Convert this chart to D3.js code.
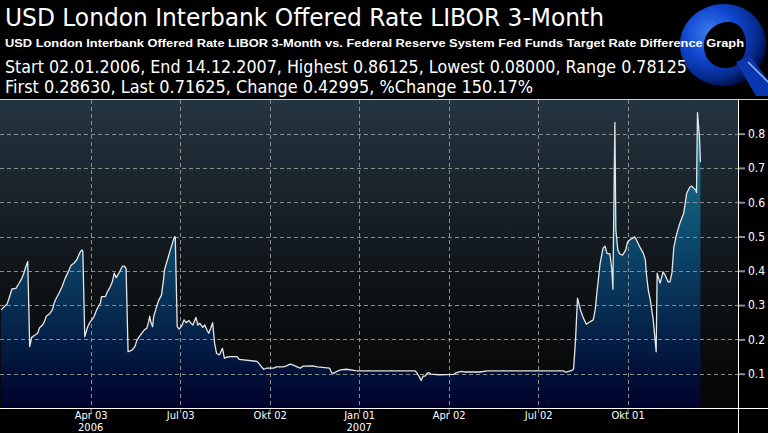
<!DOCTYPE html>
<html>
<head>
<meta charset="utf-8">
<script src="https://cdn.jsdelivr.net/npm/d3@7"></script>
<style>
  html, body { margin: 0; padding: 0; background: #000; }
  svg { display: block; }
</style>
</head>
<body>
<div id="chart"></div>
<script>
// LIBOR 3M minus Fed Funds target, days counted from 02.01.2006
const startDate = Date.UTC(2006, 0, 2);
const dayOffsets = [
  0, 2, 6, 8, 11, 15, 18, 21, 23, 25, 27, 29, 31, 34, 37, 39, 42, 44, 46, 49,
  52, 54, 56, 59, 62, 65, 69, 71, 74, 77, 80, 82, 83, 85, 88, 90, 94, 97, 101, 102,
  106, 108, 111, 113, 115, 117, 120, 123, 125, 127, 129, 133, 136, 138, 141, 144, 146, 148, 150, 151,
  152, 154, 155, 158, 160, 163, 165, 166, 168, 170, 172, 174, 176, 177, 179, 181, 184, 186, 188, 191,
  193, 195, 198, 200, 202, 205, 207, 209, 211, 213, 215, 217, 219, 222, 225, 227, 229, 233, 240, 242,
  260, 262, 265, 267, 270, 277, 280, 287, 290, 294, 297, 301, 304, 307, 317, 321, 324, 334, 336, 338,
  341, 345, 351, 360, 363, 421, 423, 426, 427, 429, 431, 433, 435, 437, 445, 460, 463, 468, 471, 487,
  494, 572, 574, 576, 580, 582, 584, 586, 589, 592, 595, 599, 602, 604, 606, 609, 612, 614, 616, 619,
  621, 622, 624, 625, 627, 629, 632, 635, 637, 639, 644, 646, 650, 653, 655, 656, 658, 660, 663, 666,
  667, 670, 673, 675, 678, 680, 682, 684, 687, 690, 694, 696, 697, 700, 702, 706, 707, 708, 710, 711
];
const rateDiff = [
  0.2863, 0.292, 0.303, 0.320, 0.347, 0.349, 0.363, 0.378, 0.393, 0.412, 0.427, 0.179, 0.206, 0.212, 0.218, 0.234, 0.242, 0.252, 0.268, 0.274,
  0.286, 0.307, 0.320, 0.336, 0.354, 0.378, 0.402, 0.416, 0.422, 0.433, 0.453, 0.461, 0.457, 0.208, 0.237, 0.249, 0.264, 0.286, 0.307, 0.325,
  0.325, 0.339, 0.354, 0.368, 0.393, 0.380, 0.395, 0.412, 0.414, 0.407, 0.164, 0.169, 0.179, 0.198, 0.210, 0.222, 0.229, 0.232, 0.252, 0.268,
  0.252, 0.237, 0.266, 0.295, 0.313, 0.329, 0.373, 0.402, 0.422, 0.441, 0.461, 0.480, 0.498, 0.499, 0.237, 0.230, 0.242, 0.257, 0.249, 0.255,
  0.247, 0.242, 0.264, 0.242, 0.247, 0.235, 0.242, 0.229, 0.218, 0.232, 0.249, 0.189, 0.159, 0.155, 0.174, 0.145, 0.148, 0.150, 0.150, 0.142,
  0.136, 0.130, 0.119, 0.113, 0.116, 0.116, 0.120, 0.120, 0.123, 0.128, 0.125, 0.120, 0.116, 0.122, 0.123, 0.120, 0.119, 0.116, 0.103, 0.101,
  0.106, 0.111, 0.113, 0.109, 0.108, 0.108, 0.101, 0.087, 0.080, 0.093, 0.093, 0.101, 0.103, 0.099, 0.097, 0.098, 0.103, 0.107, 0.105, 0.105,
  0.108, 0.108, 0.104, 0.106, 0.109, 0.113, 0.198, 0.320, 0.286, 0.262, 0.244, 0.252, 0.257, 0.286, 0.344, 0.422, 0.466, 0.472, 0.451, 0.449,
  0.402, 0.346, 0.833, 0.519, 0.461, 0.449, 0.446, 0.461, 0.485, 0.490, 0.499, 0.490, 0.466, 0.451, 0.432, 0.393, 0.344, 0.315, 0.257, 0.164,
  0.393, 0.364, 0.397, 0.388, 0.368, 0.368, 0.393, 0.470, 0.509, 0.538, 0.568, 0.606, 0.626, 0.643, 0.647, 0.636, 0.628, 0.86125, 0.791, 0.71625
];

const xTickDates = [Date.UTC(2006, 3, 3), Date.UTC(2006, 6, 3), Date.UTC(2006, 9, 2), Date.UTC(2007, 0, 1),
                    Date.UTC(2007, 3, 2), Date.UTC(2007, 6, 2), Date.UTC(2007, 9, 1)];
const xTickLabels = ["Apr 03", "Jul 03", "Okt 02", "Jan 01", "Apr 02", "Jul 02", "Okt 01"];
const yearLabels = ["2006", "", "", "2007", "", "", ""];
const yTicks = [0.1, 0.2, 0.3, 0.4, 0.5, 0.6, 0.7, 0.8];

const titleText = "USD London Interbank Offered Rate LIBOR 3-Month";
const subtitleText = "USD London Interbank Offered Rate LIBOR 3-Month vs. Federal Reserve System Fed Funds Target Rate Difference Graph";
const statsLine1 = "Start 02.01.2006, End 14.12.2007, Highest 0.86125, Lowest 0.08000, Range 0.78125";
const statsLine2 = "First 0.28630, Last 0.71625, Change 0.42995, %Change 150.17%";

const width = 768;
const height = 433;
const plot = { left: 0, right: 738, top: 100, bottom: 408 };
const dayMs = 86400000;
const axisFont = "'DejaVu Sans Condensed', 'Liberation Sans Narrow', sans-serif";

const data = dayOffsets.map((d, i) => ({ date: new Date(startDate + d * dayMs), value: rateDiff[i] }));

const svg = d3.select("#chart")
    .append("svg")
    .attr("width", width)
    .attr("height", height)
    .style("font-family", "'DejaVu Sans', Verdana, sans-serif");

svg.append("rect").attr("width", width).attr("height", height).attr("fill", "#000");

const defs = svg.append("defs");

const bgGrad = defs.append("linearGradient")
    .attr("id", "bg-grad")
    .attr("x1", 0).attr("y1", 0).attr("x2", 0).attr("y2", 1);
bgGrad.append("stop").attr("offset", "0%").attr("stop-color", "#253541");
bgGrad.append("stop").attr("offset", "55%").attr("stop-color", "#101519");
bgGrad.append("stop").attr("offset", "100%").attr("stop-color", "#050505");

const areaGrad = defs.append("linearGradient")
    .attr("id", "area-grad")
    .attr("gradientUnits", "userSpaceOnUse")
    .attr("x1", 0).attr("y1", plot.top).attr("x2", 0).attr("y2", plot.bottom);
areaGrad.append("stop").attr("offset", "0%").attr("stop-color", "#1f85a3");
areaGrad.append("stop").attr("offset", "45%").attr("stop-color", "#0c4a6c");
areaGrad.append("stop").attr("offset", "100%").attr("stop-color", "#00022c");

const logoGrad = defs.append("radialGradient")
    .attr("id", "logo-grad")
    .attr("cx", "35%").attr("cy", "35%").attr("r", "70%");
logoGrad.append("stop").attr("offset", "0%").attr("stop-color", "#3d7cf0");
logoGrad.append("stop").attr("offset", "45%").attr("stop-color", "#1046d0");
logoGrad.append("stop").attr("offset", "80%").attr("stop-color", "#062a8c");
logoGrad.append("stop").attr("offset", "100%").attr("stop-color", "#000c40");

// logo sits behind the header texts
const logo = svg.append("g");
logo.append("path")
    .attr("d", "M724,4 C748,4 766,22 766,45 C766,68 748,86 724,86 C700,86 680,68 680,45 C680,22 700,4 724,4 Z " +
               "M728,22 C716,22 704,32 704,46 C704,60 714,68 726,68 C738,68 746,58 746,45 C746,32 740,22 728,22 Z")
    .attr("fill", "url(#logo-grad)")
    .attr("fill-rule", "evenodd");
logo.append("path")
    .attr("d", "M736,62 L750,56 L768,80 L768,96 L756,96 Z")
    .attr("fill", "#0a36b0");
logo.append("path")
    .attr("d", "M748,62 L768,82")
    .attr("stroke", "#9fb8e8")
    .attr("stroke-width", 1.5);

svg.append("text")
    .attr("x", 5).attr("y", 26)
    .attr("fill", "#fff")
    .attr("font-size", 25)
    .attr("textLength", 599)
    .attr("lengthAdjust", "spacingAndGlyphs")
    .text(titleText);

svg.append("text")
    .attr("x", 5).attr("y", 47)
    .attr("fill", "#fff")
    .style("font-family", "'Liberation Sans', Arial, sans-serif")
    .attr("font-size", 11.5)
    .attr("font-weight", "bold")
    .attr("textLength", 739)
    .attr("lengthAdjust", "spacingAndGlyphs")
    .text(subtitleText);

svg.append("text")
    .attr("x", 5).attr("y", 73)
    .attr("fill", "#fff")
    .attr("font-size", 17)
    .attr("textLength", 682)
    .attr("lengthAdjust", "spacingAndGlyphs")
    .text(statsLine1);

svg.append("text")
    .attr("x", 5).attr("y", 93)
    .attr("fill", "#fff")
    .attr("font-size", 17)
    .attr("textLength", 528)
    .attr("lengthAdjust", "spacingAndGlyphs")
    .text(statsLine2);

const x = d3.scaleUtc()
    .domain([new Date(Date.UTC(2005, 11, 31, 19)), new Date(Date.UTC(2008, 0, 21, 5))])
    .range([plot.left, plot.right]);

const y = d3.scaleLinear()
    .domain([0, 0.898])
    .range([plot.bottom, plot.top]);

svg.append("rect")
    .attr("x", plot.left).attr("y", plot.top)
    .attr("width", plot.right - plot.left)
    .attr("height", plot.bottom - plot.top)
    .attr("fill", "url(#bg-grad)");

const area = d3.area()
    .x(d => x(d.date))
    .y0(y(0))
    .y1(d => y(d.value));

svg.append("path")
    .datum(data)
    .attr("d", area)
    .attr("fill", "url(#area-grad)");

// dashed grid
svg.append("g")
    .selectAll("line")
    .data(yTicks)
    .enter()
    .append("line")
    .attr("x1", plot.left).attr("x2", plot.right)
    .attr("y1", d => Math.round(y(d)) + 0.5)
    .attr("y2", d => Math.round(y(d)) + 0.5)
    .attr("stroke", "#8c8c8c")
    .attr("stroke-dasharray", "4,3");

svg.append("g")
    .selectAll("line")
    .data(xTickDates)
    .enter()
    .append("line")
    .attr("x1", d => Math.round(x(d)) + 0.5)
    .attr("x2", d => Math.round(x(d)) + 0.5)
    .attr("y1", plot.top).attr("y2", plot.bottom)
    .attr("stroke", "#8c8c8c")
    .attr("stroke-dasharray", "4,3");

const line = d3.line()
    .x(d => x(d.date))
    .y(d => y(d.value));

svg.append("path")
    .datum(data)
    .attr("d", line)
    .attr("fill", "none")
    .attr("stroke", "#e6e6e6")
    .attr("stroke-width", 1.3)
    .attr("stroke-linejoin", "round");

// frame lines
svg.append("line")
    .attr("x1", 0).attr("x2", width)
    .attr("y1", plot.top - 0.5).attr("y2", plot.top - 0.5)
    .attr("stroke", "#cfcfcf");
svg.append("line")
    .attr("x1", 0).attr("x2", width)
    .attr("y1", plot.bottom + 0.5).attr("y2", plot.bottom + 0.5)
    .attr("stroke", "#fff");
svg.append("line")
    .attr("x1", plot.right + 0.5).attr("x2", plot.right + 0.5)
    .attr("y1", plot.top - 1).attr("y2", height)
    .attr("stroke", "#fff");

const xAxis = svg.append("g")
    .attr("transform", `translate(0, ${plot.bottom + 1})`)
    .call(d3.axisBottom(x)
        .tickValues(xTickDates.map(d => new Date(d)))
        .tickFormat((d, i) => xTickLabels[i])
        .tickSize(4));
xAxis.select(".domain").remove();
xAxis.selectAll(".tick line").attr("stroke", "#999");
xAxis.selectAll(".tick text")
    .attr("y", 2)
    .attr("fill", "#fff")
    .style("font-family", axisFont)
    .style("font-stretch", "condensed")
    .style("font-size", "11px");

svg.append("g")
    .selectAll("text")
    .data(xTickDates)
    .enter()
    .append("text")
    .attr("x", d => x(d))
    .attr("y", 431)
    .attr("text-anchor", "middle")
    .attr("fill", "#fff")
    .style("font-family", axisFont)
    .style("font-stretch", "condensed")
    .style("font-size", "11px")
    .text((d, i) => yearLabels[i]);

const yAxis = svg.append("g")
    .attr("transform", `translate(${plot.right + 1}, 0)`)
    .call(d3.axisRight(y)
        .tickValues(yTicks)
        .tickFormat(d3.format(".1f"))
        .tickSize(6)
        .tickPadding(3));
yAxis.select(".domain").remove();
yAxis.selectAll(".tick line").attr("stroke", "#8c8c8c").attr("stroke-width", 2);
yAxis.selectAll(".tick text")
    .attr("fill", "#fff")
    .style("font-family", axisFont)
    .style("font-stretch", "condensed")
    .style("font-size", "12px");
</script>
</body>
</html>
